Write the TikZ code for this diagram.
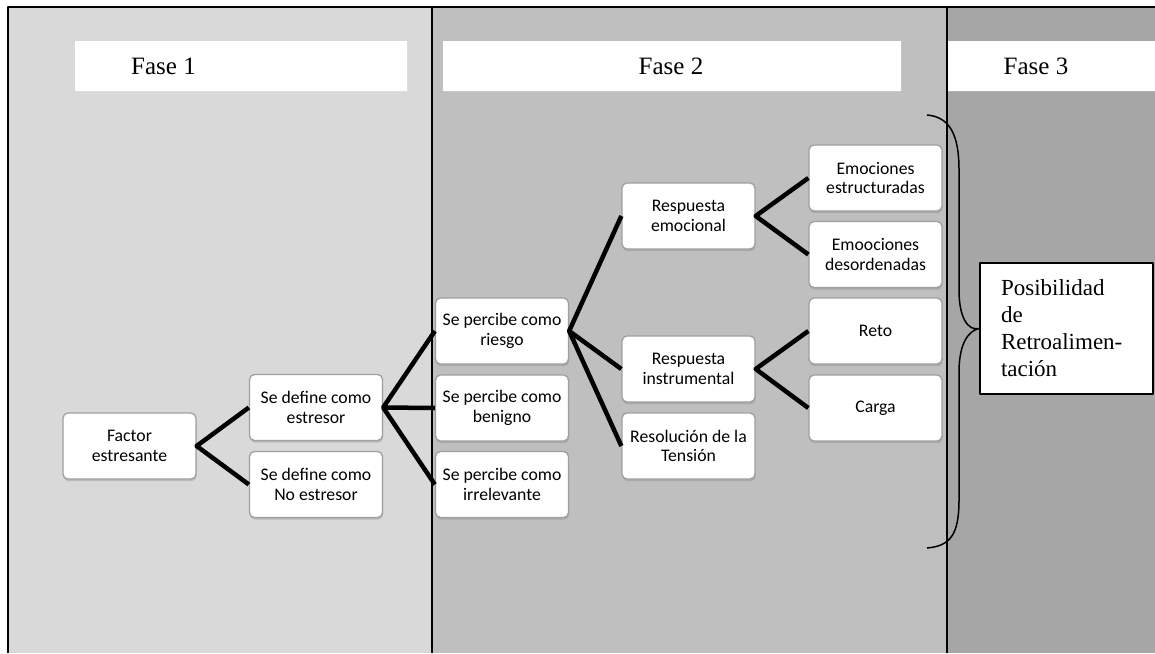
\documentclass[tikz,border=0pt]{standalone}
\usepackage{fontspec}
\setmainfont{Liberation Serif}
\newfontfamily\calib{Carlito}
\usetikzlibrary{shadows}
\begin{document}
\begin{tikzpicture}[x=1pt, y=-1pt, line join=round,
	caja/.style={draw=gray!75, line width=1.3pt, fill=white, rounded corners=5pt, minimum width=133pt, minimum height=66pt, inner sep=2pt, align=center, font=\calib\fontsize{17.7}{19.5}\selectfont, drop shadow={shadow xshift=0.6pt, shadow yshift=-2.2pt, opacity=0.35}},
	fase/.style={font=\fontsize{25}{28}\selectfont},
	rama/.style={line width=4.5pt},
	retro/.style={draw, line width=2pt, fill=white, text width=131pt, inner xsep=21pt, minimum height=131pt, align=left, font=\fontsize{23}{27}\selectfont}]
	\useasboundingbox (0,0) rectangle (1155,653);
	\fill[black!15] (8,7) rectangle (432,653);
	\fill[black!25] (432,7) rectangle (947,653);
	\fill[black!35] (947,7) rectangle (1155,653);
	\draw[line width=2.5pt] (8,653)--(8,7)--(1155,7) (432,7)--(432,653) (947,7)--(947,653);
	\fill[white] (75,41) rectangle (407,91) (443,41) rectangle (901,91) (948,41) rectangle (1155,91);
	\node[fase] (f1) at (163.5,66) {Fase 1};
	\node[fase] (f2) at (671,66) {Fase 2};
	\node[fase] (f3) at (1036,66) {Fase 3};
	\node[caja] (fac) at (129.5,446) {Factor\\estresante};
	\node[caja] (est) at (316,407.5) {Se define como\\estresor};
	\node[caja] (noest) at (316,484.5) {Se define como\\No estresor};
	\node[caja] (rie) at (502,331) {Se percibe como\\riesgo};
	\node[caja] (ben) at (502,408) {Se percibe como\\benigno};
	\node[caja] (irr) at (502,484.5) {Se percibe como\\irrelevante};
	\node[caja] (emo) at (688.5,216) {Respuesta\\emocional};
	\node[caja] (ins) at (688.5,369) {Respuesta\\instrumental};
	\node[caja] (res) at (688.5,446) {Resolución de la\\Tensión};
	\node[caja] (estr) at (875.5,178) {Emociones\\estructuradas};
	\node[caja] (des) at (875.5,254.5) {Emoociones\\desordenadas};
	\node[caja] (reto) at (875.5,331) {Reto};
	\node[caja] (car) at (875.5,408) {Carga};
	\draw[rama] (est.west)--(fac.east)--(noest.west);
	\draw[rama] (rie.west)--(est.east)--(irr.west) (est.east)--(ben.west);
	\draw[rama] (emo.west)--(rie.east)--(res.west) (rie.east)--(ins.west);
	\draw[rama] (estr.west)--(emo.east)--(des.west);
	\draw[rama] (reto.west)--(ins.east)--(car.west);
	\node[retro] (pos) at (1066.5,328.5) {Posibilidad\\de\\Retroalimen-\\tación};
	\coordinate (ba) at (927,115);
	\coordinate (bb) at (927,548);
	\draw[line width=1.5pt] (ba) .. controls (950,117) and (959,135) .. (959,170) -- (959,290) .. controls (959,318) and (968,331) .. (pos.west) .. controls (968,331) and (959,344) .. (959,372) -- (959,500) .. controls (959,535) and (950,546) .. (bb);
\end{tikzpicture}
\end{document}
